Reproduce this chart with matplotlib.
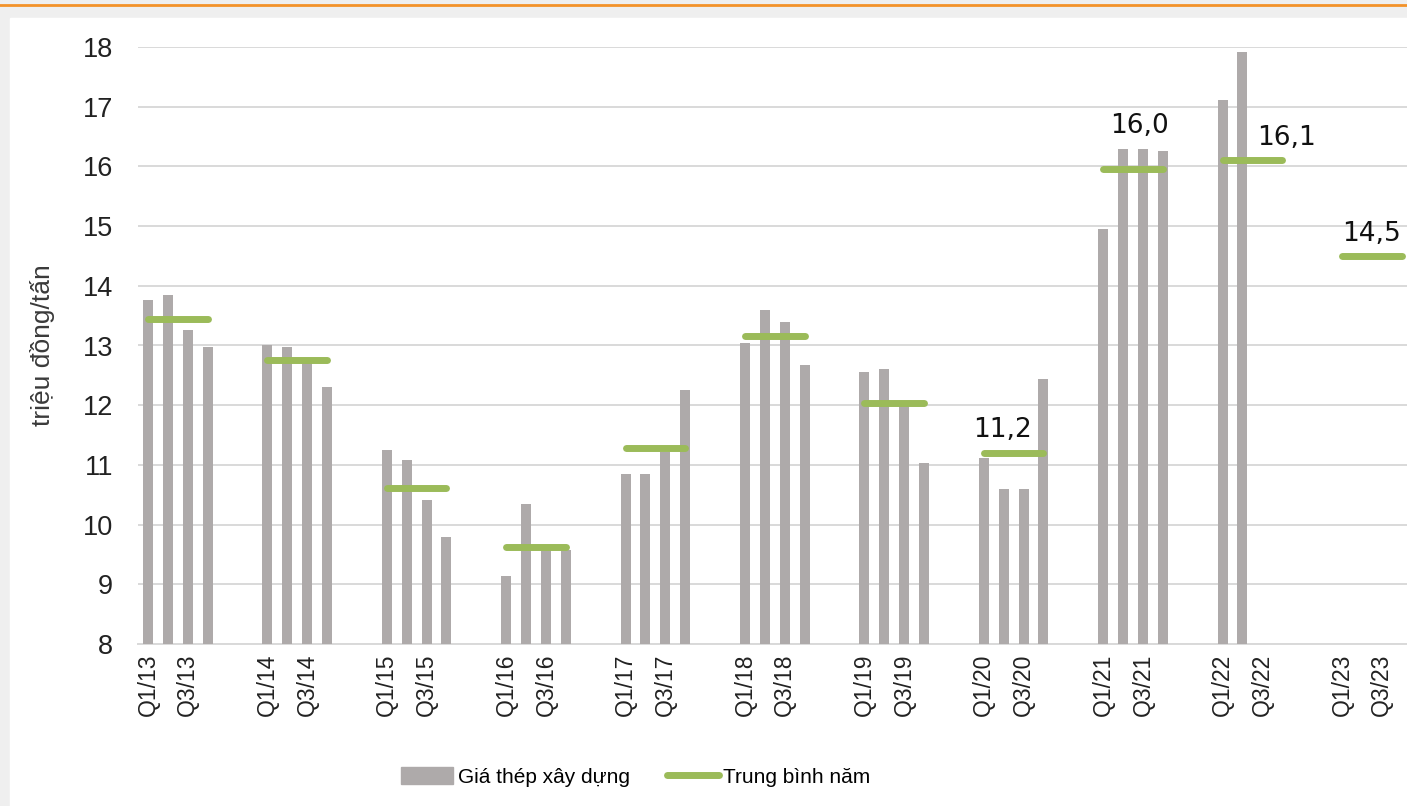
import numpy as np
import matplotlib
matplotlib.use("Agg")
import matplotlib.pyplot as plt
from matplotlib.lines import Line2D
from matplotlib.patches import Rectangle

# ---------- data ----------
years = [13, 14, 15, 16, 17, 18, 19, 20, 21, 22, 23]

# quarterly price, million VND / tonne (None = no data)
price_13 = [13.76, 13.84, 13.26, 12.98]
price_14 = [13.01, 12.97, 12.71, 12.31]
price_15 = [11.25, 11.08, 10.42, 9.80]
price_16 = [9.14, 10.34, 9.58, 9.57]
price_17 = [10.84, 10.84, 11.22, 12.25]
price_18 = [13.05, 13.59, 13.39, 12.68]
price_19 = [12.55, 12.60, 11.98, 11.04]
price_20 = [11.12, 10.59, 10.59, 12.44]
price_21 = [14.95, 16.29, 16.29, 16.25]
price_22 = [17.12, 17.92, None, None]
price_23 = [None, None, None, None]
prices = [price_13, price_14, price_15, price_16, price_17, price_18,
          price_19, price_20, price_21, price_22, price_23]

# yearly average (green segments)
yearly_avg = [13.45, 12.75, 10.62, 9.63, 11.28, 13.16, 12.04, 11.2, 15.95, 16.1, 14.5]
# which averages carry a label
labelled = {20: "11,2", 21: "16,0", 22: "16,1", 23: "14,5"}

SLOTS = 6          # 4 quarters + 2 blank categories per year
GREY = "#aeaaaa"
GREEN = "#9bbb59"

# ---------- figure ----------
fig = plt.figure(figsize=(14.07, 8.06), dpi=100)
fig.patch.set_facecolor("#efefef")
fig.patches.append(Rectangle((10 / 1407, 0), 1, (806 - 18) / 806,
                             transform=fig.transFigure, color="white", zorder=-5))
fig.lines.append(Line2D([0, 1], [1 - 4.5 / 806] * 2, transform=fig.transFigure,
                        color="#f39229", lw=2, zorder=-4))

px_w = 19.9  # one category in pixels
ax = fig.add_axes([138 / 1407, (806 - 644) / 806,
                   SLOTS * len(years) * px_w / 1407, (644 - 47) / 806])
ax.patch.set_alpha(0)

xs, hs = [], []
for i, yr in enumerate(years):
    for q, v in enumerate(prices[i]):
        if v is not None:
            xs.append(i * SLOTS + q)
            hs.append(v - 8)
ax.bar(xs, hs, bottom=8, width=0.5, color=GREY, zorder=3)

for i, yr in enumerate(years):
    x0 = i * SLOTS
    ax.plot([x0, x0 + 3], [yearly_avg[i]] * 2, color=GREEN, lw=5,
            solid_capstyle="round", zorder=4)

# data labels: (x offset in categories, y offset in units)
lab_off = {20: (0.96, 0.38), 21: (1.85, 0.72), 22: (3.2, 0.38), 23: (1.5, 0.36)}
for i, yr in enumerate(years):
    if yr in labelled:
        dx, dy = lab_off[yr]
        ax.text(i * SLOTS + dx, yearly_avg[i] + dy, labelled[yr],
                ha="center", va="center", fontsize=19, family="DejaVu Sans",
                color="#111111", zorder=5)

# axes styling
ax.set_ylim(8, 18)
ax.set_yticks(range(8, 19))
ax.set_xlim(-0.5, SLOTS * len(years) - 0.5)

tick_pos, tick_lab = [], []
for i, yr in enumerate(years):
    for k in range(0, SLOTS, 2):
        tick_pos.append(i * SLOTS + k)
        tick_lab.append(f"Q{k + 1}/{yr}" if k < 4 else "")
ax.set_xticks(tick_pos)
ax.set_xticklabels(tick_lab, rotation=90, fontsize=16.5, family="Liberation Sans",
                   color="#222222")
ax.tick_params(axis="x", length=0, pad=7)
ax.tick_params(axis="y", length=0, pad=18, labelsize=19.5, labelcolor="#222222")
for t in ax.get_yticklabels():
    t.set_family("Liberation Sans")

ax.grid(axis="y", color="#d9d9d9", lw=1.4, zorder=0)
for s in ["top", "right", "left"]:
    ax.spines[s].set_visible(False)
ax.spines["bottom"].set_color("#d9d9d9")
ax.spines["bottom"].set_linewidth(1.4)

ax.set_ylabel("triệu đồng/tấn", fontsize=19, family="Liberation Sans",
              color="#3a3a3a", labelpad=20)

handles = [Rectangle((0, 0), 1, 1, color=GREY),
           Line2D([0], [0], color=GREEN, lw=5, solid_capstyle="round")]
fig.legend(handles, ["Giá thép xây dựng", "Trung bình năm"],
           loc="center", bbox_to_anchor=(636 / 1407, (806 - 777) / 806),
           ncol=2, frameon=False, handlelength=2.5, handleheight=0.9,
           handletextpad=0.2, columnspacing=1.8,
           prop={"family": "Liberation Sans", "size": 15})

fig.savefig("out.png", dpi=100, facecolor=fig.get_facecolor())
